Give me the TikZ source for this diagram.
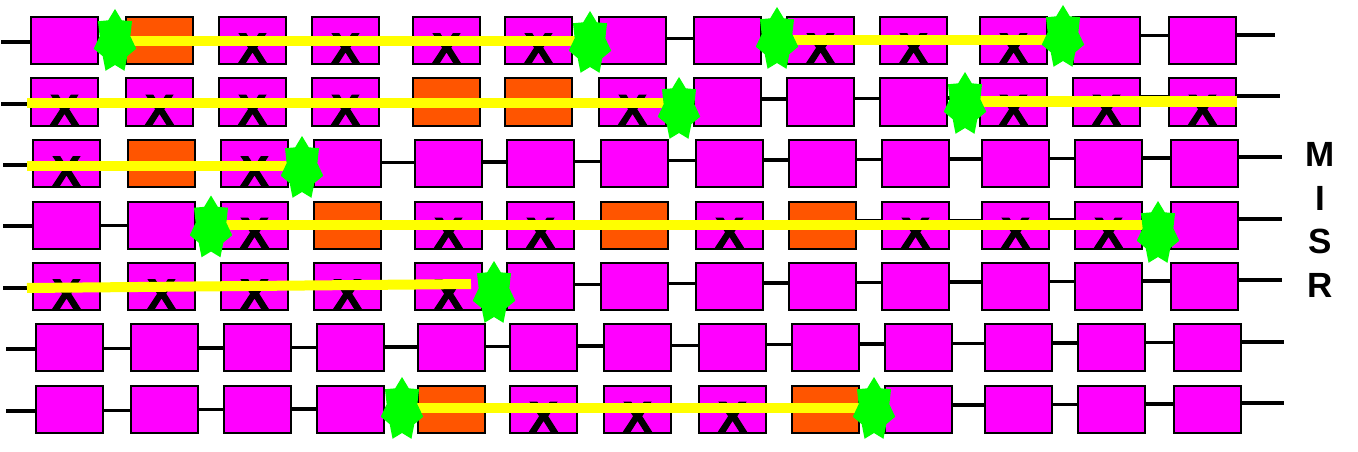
\documentclass[tikz,border=0pt]{standalone}
\usepackage{fontspec}
\setmainfont{Liberation Sans}
\newfontfamily\xfont[FakeBold=2.5]{Liberation Sans Bold}
\usetikzlibrary{calc}
\definecolor{mag}{HTML}{FF00FF}
\definecolor{org}{HTML}{FF5500}
\definecolor{ylw}{HTML}{FFFF00}
\definecolor{grn}{HTML}{00FF00}
\begin{document}
\begin{tikzpicture}[x=1pt,y=-1pt,
  cell/.style={draw=black, line width=2pt, minimum width=67pt, minimum height=47pt, inner sep=0pt, fill=mag},
  cell-m/.style={cell},
  cell-x/.style={cell},
  cell-o/.style={cell, fill=org},
  conn/.style={line width=3.5pt, black},
  bar/.style={line width=10pt, ylw},
  xmark/.style={font=\fontsize{43}{43}\xfont, inner sep=0pt, text=black},
  misr/.style={font=\fontsize{35}{43.7}\selectfont\bfseries, inner sep=0pt, align=center},
  gstar/.pic={\fill[grn,xscale=0.67] plot[samples at={0,...,13},variable=\i] ({-90+\i*180/7}:{23.5+9*mod(\i+1,2)}) -- cycle;}
]
\useasboundingbox (0,0) rectangle (1358,452);
\def\boxxs{{30,125,218,311,412,504,598,693,786,879,979,1072,1168}}
\foreach \r/\dx/\yc/\yl/\yr/\xe/\types in {
  1/0/40.5/42/35/1275/{m,o,x,x,x,x,m,m,x,x,x,m,m},
  2/0/102/104/96/1280/{x,x,x,x,o,o,x,m,m,m,x,x,x},
  3/2/163.5/165/157/1282/{x,o,x,m,m,m,m,m,m,m,m,m,m},
  4/2/225/226/219/1282/{m,m,x,o,x,x,o,x,o,x,x,x,m},
  5/2/286.5/288/280/1282/{x,x,x,x,x,m,m,m,m,m,m,m,m},
  6/5/347.5/349/342/1284/{m,m,m,m,m,m,m,m,m,m,m,m,m},
  7/5/409/411/403/1284/{m,m,m,m,o,x,x,x,o,m,m,m,m}}{
  \foreach \ty [count=\c] in \types {
    \pgfmathsetmacro\lx{\boxxs[\c-1]+\dx+34.5}
    \node[cell-\ty] (r\r-\c) at (\lx,\yc) {};
    \if x\ty \node[xmark] (x\r-\c) at ([yshift=-8pt]r\r-\c.center) {X};\fi
  }
  \pgfmathsetmacro\shl{\yc-\yl}
  \coordinate (lf\r) at (\dx+1,\yl);
  \draw[conn] (lf\r) -- ([yshift=\shl pt]r\r-1.west);
  \foreach \c in {1,...,12}{
    \pgfmathtruncatemacro\cn{\c+1}
    \pgfmathsetmacro\xa{\boxxs[\c-1]}
    \pgfmathsetmacro\xb{\boxxs[\c]}
    \pgfmathsetmacro\xm{(\xa+69+\xb)/2+\dx}
    \pgfmathsetmacro\shg{\yc-(\yl+(\yr-\yl)*\xm/1280)}
    \draw[conn] ([yshift=\shg pt]r\r-\c.east) -- ([yshift=\shg pt]r\r-\cn.west);
  }
  \pgfmathsetmacro\shr{\yc-\yr}
  \coordinate (rt\r) at (\xe,\yr);
  \draw[conn] ([yshift=\shr pt]r\r-13.east) -- (rt\r);
}
% star positions
\foreach \n/\sx/\sy in {1/115/41.5, 2/590/43.5, 3/777/39.5, 4/1063/37.5,
  5/679/109.5, 6/965/104.5, 7/302/168.5, 8/211/228, 9/1158/233.5,
  10/494/293.5, 11/402/409.5, 12/874/409.5}{
  \coordinate (s\n) at (\sx,\sy);
}
% yellow bars
\draw[bar] (s1 |- 0,41) -- (s2 |- 0,41);
\draw[bar] (s3 |- 0,40) -- (s4 |- 0,40);
\coordinate (b2a) at (27,103);
\draw[bar] (b2a) -- (s5 |- b2a);
\coordinate (b2b) at (1237,101.5);
\draw[bar] (s6 |- b2b) -- (b2b);
\coordinate (b3a) at (27,166);
\draw[bar] (b3a) -- (s7 |- b3a);
\draw[bar] (s8 |- 0,225) -- (s9 |- 0,225);
\coordinate (b5a) at (27,288);
\coordinate (b5b) at (471,284);
\draw[bar] (b5a) -- (b5b);
\draw[bar] (s11 |- 0,408) -- (s12 |- 0,408);
% green stars
\foreach \n in {1,...,12}{
  \pic at (s\n) {gstar};
}
\node[misr] (misr) at (1320,220) {M\\I\\S\\R};
\end{tikzpicture}
\end{document}
